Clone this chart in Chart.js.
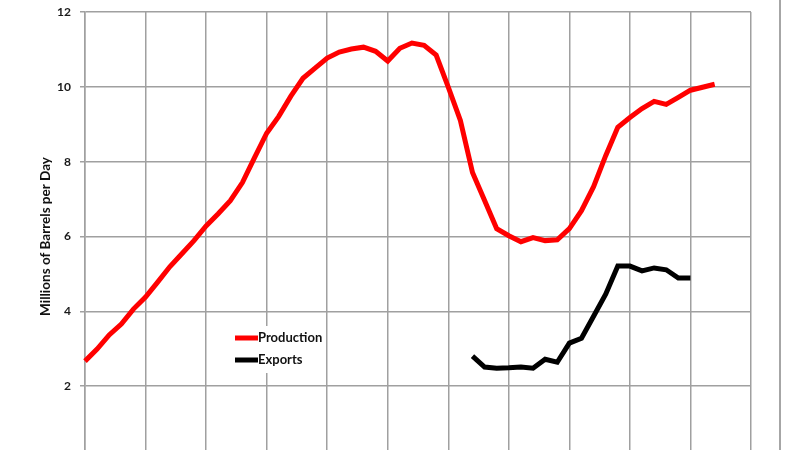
<!DOCTYPE html>
<html>
<head>
<meta charset="utf-8">
<script src="https://cdn.jsdelivr.net/npm/chart.js@4/dist/chart.umd.min.js"></script>
<style>
  html, body { margin: 0; padding: 0; background: #fff; overflow: hidden; }
  #wrap { position: relative; width: 800px; height: 478px; }
  #edge { position: absolute; left: 779px; top: 0; width: 0; height: 478px; border-left: 2px solid #a6a6a6; }
</style>
</head>
<body>
<div id="wrap">
  <canvas id="chart" width="800" height="478"></canvas>
  <div id="edge"></div>
</div>
<script>
// years 1960..2015, grid every 5 years
const years = [];
for (let y = 1960; y <= 2015; y++) years.push(String(y));

// production 1960-2012, millions of barrels per day
const production = [
  2.67, 2.99, 3.37, 3.66, 4.06, 4.38, 4.78, 5.19, 5.54, 5.89,
  6.28, 6.61, 6.96, 7.44, 8.11, 8.76, 9.21, 9.75, 10.23, 10.50,
  10.77, 10.93, 11.01, 11.06, 10.95, 10.69, 11.03, 11.17, 11.11, 10.85,
  9.99, 9.10, 7.71, 6.96, 6.21, 6.02, 5.86, 5.97, 5.89, 5.91,
  6.21, 6.69, 7.33, 8.16, 8.92, 9.18, 9.42, 9.61, 9.53, 9.72,
  9.91, 9.99, 10.07
];

// exports 1992-2010
const exportsStart = 1992;
const exportsVals = [
  2.80, 2.51, 2.48, 2.49, 2.51, 2.48, 2.72, 2.64, 3.15, 3.28,
  3.87, 4.46, 5.21, 5.21, 5.08, 5.16, 5.11, 4.89, 4.89
];

const exportsData = years.map((y) => {
  const k = Number(y) - exportsStart;
  return (k >= 0 && k < exportsVals.length) ? exportsVals[k] : null;
});

const yTicks = [0, 2, 4, 6, 8, 10, 12];

const FONT = "Lato, 'Open Sans', sans-serif";

// legend drawn inside the plot, on a white box
const innerLegend = {
  id: 'innerLegend',
  afterDatasetsDraw(chart) {
    const ctx = chart.ctx;
    ctx.save();
    ctx.fillStyle = '#fff';
    ctx.fillRect(230, 326, 95, 47);
    chart.data.datasets.forEach((ds, i) => {
      const y = 338 + i * 22;
      ctx.strokeStyle = ds.borderColor;
      ctx.lineWidth = 5;
      ctx.beginPath();
      ctx.moveTo(235, y);
      ctx.lineTo(258, y);
      ctx.stroke();
      ctx.fillStyle = '#111';
      ctx.font = "bold 13px " + FONT;
      ctx.textBaseline = 'middle';
      ctx.fillText(ds.label, 258, y);
    });
    ctx.restore();
  }
};

new Chart(document.getElementById('chart'), {
  type: 'line',
  data: {
    labels: years,
    datasets: [
      {
        label: 'Production',
        data: production,
        borderColor: '#ff0000',
        borderWidth: 5,
        pointRadius: 0,
        tension: 0
      },
      {
        label: 'Exports',
        data: exportsData,
        borderColor: '#000000',
        borderWidth: 5,
        pointRadius: 0,
        tension: 0
      }
    ]
  },
  options: {
    responsive: false,
    animation: false,
    layout: { autoPadding: false, padding: { left: 38, right: 49, top: 12, bottom: 17 } },
    plugins: {
      legend: { display: false },
      tooltip: { enabled: false }
    },
    scales: {
      x: {
        offset: false,
        ticks: { display: false, autoSkip: false },
        grid: {
          color: (c) => (c.index % 5 === 0 ? '#a0a0a0' : 'rgba(0,0,0,0)'),
          lineWidth: 1.5,
          drawTicks: false
        },
        border: { color: '#a0a0a0', width: 1.5 }
      },
      y: {
        min: 0,
        max: 12,
        afterBuildTicks: (s) => { s.ticks = yTicks.map(v => ({ value: v })); },
        afterFit: (s) => { s.width = 47; s.paddingTop = 7; s.paddingBottom = 7; },
        ticks: {
          padding: 9,
          color: '#1a1a1a',
          font: { family: FONT, size: 12, weight: 'bold' }
        },
        grid: { color: '#a0a0a0', lineWidth: 1.5, tickLength: 5 },
        border: { color: '#a0a0a0', width: 1.5 },
        title: {
          display: true,
          text: 'Millions of Barrels per Day',
          color: '#111',
          padding: 0,
          font: { family: FONT, size: 13.5, weight: 'bold' }
        }
      }
    }
  },
  plugins: [innerLegend]
});
</script>
</body>
</html>
